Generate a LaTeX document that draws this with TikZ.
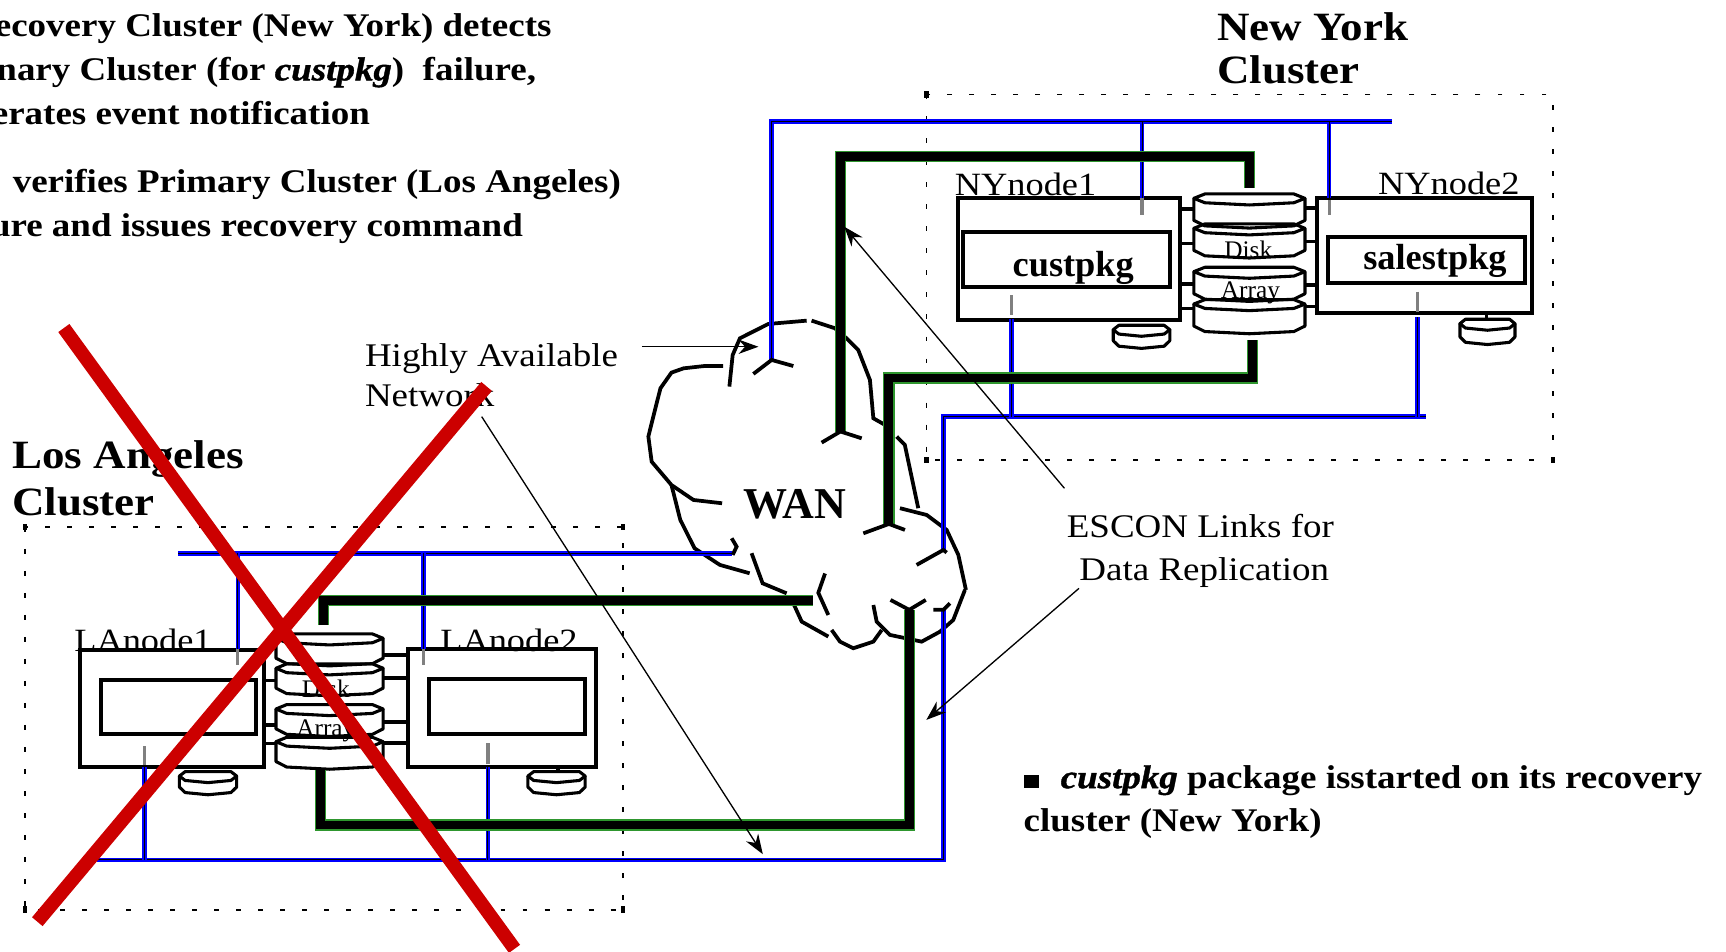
\documentclass[tikz,border=0pt]{standalone}
\usepackage{fontspec}
\setmainfont{Liberation Serif}
\newfontfamily\widefont{Liberation Serif}[FakeStretch=1.12,
  BoldFont={Liberation Serif Bold}, BoldItalicFont={Liberation Serif Bold Italic},
  BoldItalicFeatures={FakeBold=1.2}]
\usetikzlibrary{arrows.meta}

\definecolor{lanblue}{RGB}{0,0,255}
\definecolor{esconedge}{RGB}{46,150,46}
\definecolor{xred}{RGB}{204,0,0}

% one disk of a stack: centre x, lens centre y, half width, side height
\newcommand{\platter}[4]{%
  \draw[diskline] ({#1-#3},{#2}) -- ({#1-0.8*#3},{#2-4}) -- ({#1+0.8*#3},{#2-4})
    -- ({#1+#3},{#2}) -- ({#1+0.8*#3},{#2+4}) -- ({#1},{#2+6}) -- ({#1-0.8*#3},{#2+4}) -- cycle;
  \draw[diskline] ({#1-#3},{#2}) -- ({#1-#3},{#2+#4}) -- ({#1-0.8*#3},{#2+#4+5})
    -- ({#1},{#2+#4+7}) -- ({#1+0.8*#3},{#2+#4+5}) -- ({#1+#3},{#2+#4}) -- ({#1+#3},{#2});
}

\begin{document}
\begin{tikzpicture}[x=1pt, y=-1pt,
  every node/.style={inner sep=0pt, outer sep=0pt},
  hostbox/.style={draw, line width=3.6pt},
  pkgbox/.style={draw, line width=3.6pt},
  lan/.style={draw=lanblue, line width=1.6pt, double=black, double distance=0.8pt},
  escon/.style={draw=esconedge, line width=1.2pt, double=black, double distance=8pt},
  tick/.style={draw=gray, line width=3pt},
  stub/.style={line width=3pt},
  diskline/.style={line width=2.8pt, line join=round},
  cloudline/.style={line width=3.4pt},
  frame/.style={line width=1.3pt, dash pattern=on 4.5pt off 15.5pt},
  callout/.style={line width=1.2pt, -{Stealth[length=18pt, width=13pt]}},
  cross/.style={draw=xred, line width=12.5pt},
  slide/.style={font=\widefont\bfseries\fontsize{30}{36}\selectfont},
  title/.style={font=\widefont\bfseries\fontsize{36.5}{40}\selectfont, anchor=base west},
  hostname/.style={font=\widefont\fontsize{29.5}{32}\selectfont, anchor=base west},
  pkgname/.style={font=\bfseries\fontsize{33}{36}\selectfont, anchor=base},
  arraytext/.style={font=\fontsize{23}{25}\selectfont, anchor=base},
  note/.style={font=\widefont\fontsize{30}{36}\selectfont}
]
\useasboundingbox (0,0) rectangle (1568,864);

% cluster frames
\draw[frame] (841.7,85.7) rectangle (1411,418);
\foreach \x/\y in {841.7/85.7, 841.7/418, 1411/418}
  \fill (\x,\y) +(-2,-3) rectangle +(2,3);
\draw[frame] (22.6,478.6) rectangle (566,826.5);
\foreach \x/\y in {22.6/478.6, 566/478.6, 22.6/826.5, 566/826.5}
  \fill (\x,\y) +(-2,-3) rectangle +(2,3);

% WAN cloud
\draw[cloudline] (657,332.5) -- (640,332.5) -- (621,334.6) -- (610,338.5) -- (600,352.7)
  -- (595,372.4) -- (589,396.6) -- (592,419.4) -- (610,440.6) -- (630,454.2) -- (656,457.2);
\draw[cloudline] (610,440.6) -- (618,472.3) -- (631,498.1) -- (654,513.2) -- (681,520.8);
\draw[cloudline] (662.6,351.2) -- (665.6,322.5) -- (672.2,307.3) -- (698,294.3) -- (732.8,291.3);
\draw[cloudline] (737.3,291.3) -- (758.5,298.2) -- (769,307.3) -- (779.7,318) -- (790.3,345.2)
  -- (793.4,380) -- (804,386);
\draw[cloudline] (814.6,396.6) -- (822,404.2) -- (834.2,461.7);
\draw[cloudline] (817.6,461.7) -- (841.8,467.8) -- (860,481.4) -- (870.6,504.1) -- (877.5,535.9);
\draw[cloudline] (876.6,535.9) -- (866,563.2) -- (854,573.8) -- (837.3,582.9) -- (808.5,576.8)
  -- (796.4,564.7) -- (793.4,549.6);
\draw[cloudline] (801,572.3) -- (793.4,582.9) -- (775.2,588.9) -- (763.1,582.9) -- (755.5,572.3);
\draw[cloudline] (752.5,578.3) -- (728.3,564.7) -- (720.7,548.1);
\draw[cloudline] (714.6,539) -- (692.8,529.9) -- (682.8,502.6);
\node[font=\bfseries\fontsize{40}{40}\selectfont, anchor=base] (wan) at (722,471) {WAN};

% hosts, New York
\node[hostbox, minimum width=201.7pt, minimum height=111pt] (ny1) at (971.2,235.5) {};
\node[pkgbox, minimum width=188pt, minimum height=50pt] (ny1pkg) at (968.9,235.8) {};
\node[pkgname] (custpkg) at (975,251.6) {custpkg};
\node[hostname] (ny1name) at (867.5,178) {NYnode1};
\node[hostbox, minimum width=196pt, minimum height=104.5pt] (ny2) at (1294,232.3) {};
\node[pkgbox, minimum width=178.5pt, minimum height=42pt] (ny2pkg) at (1295.8,236) {};
\node[pkgname] (salestpkg) at (1303.6,245) {salestpkg};
\node[hostname] (ny2name) at (1252,177) {NYnode2};

% hosts, Los Angeles
\node[hostbox, minimum width=167pt, minimum height=106pt] (la1) at (155.9,643.5) {};
\node[pkgbox, minimum width=140.5pt, minimum height=49pt] (la1pkg) at (162,642.3) {};
\node[hostname] (la1name) at (67.5,592) {LAnode1};
\node[hostbox, minimum width=170.4pt, minimum height=106.7pt] (la2) at (455.8,643) {};
\node[pkgbox, minimum width=141.5pt, minimum height=50pt] (la2pkg) at (460.8,642) {};
\node[hostname] (la2name) at (400,592) {LAnode2};

% disk arrays and their SCSI stubs
\foreach \yc in {180.2,207.4,246.8,276.2} \platter{1135}{\yc}{50.5}{20};
\node[arraytext] (nydisk) at (1134,234.5) {Disk};
\node[arraytext] (nyarray) at (1136,271) {Array};
\foreach \y in {190,221,258,280} \draw[stub] (1072,\y) -- (1084.5,\y);
\foreach \y in {189,219.5,259,278.6} \draw[stub] (1185.5,\y) -- (1196,\y);

\foreach \yc in {579.9,607.1,644.1,673.8} \platter{299.4}{\yc}{48.7}{18};
\node[arraytext] (ladisk) at (296,634) {Disk};
\node[arraytext] (laarray) at (296,669) {Array};
\foreach \y in {589,618,658.6,675.3} \draw[stub] (239.5,\y) -- (250.7,\y);
\foreach \y in {595,616,656,675} \draw[stub] (348,\y) -- (370.6,\y);

% root disks
\platter{1037}{299.5}{25.7}{10};
\platter{1351.3}{294}{25}{12};
\draw[stub] (1350.5,284.5) -- (1350.5,290);
\platter{189}{705}{26}{10};
\platter{505.6}{705}{26}{10};
\draw[stub] (507,696.5) -- (507,701);

% LANs
\coordinate (nyLanEnd) at (701,327);
\coordinate (nyLanCorner) at (701,110.5);
\coordinate (nyLanRight) at (1265,110.5);
\coordinate (ny1up) at (1037.5,180);
\coordinate (ny2up) at (1207.5,180);
\draw[lan] (nyLanEnd) -- (nyLanCorner) -- (nyLanRight);
\draw[lan] (ny1up |- nyLanCorner) -- (ny1up);
\draw[lan] (ny2up |- nyLanCorner) -- (ny2up);

\coordinate (nyLowEnd) at (857,499.6);
\coordinate (nyLowCorner) at (857,378.5);
\coordinate (nyLowRight) at (1295,378.5);
\coordinate (ny1down) at (919,290);
\coordinate (ny2down) at (1287.7,288);
\draw[lan] (nyLowEnd) -- (nyLowCorner) -- (nyLowRight);
\draw[lan] (ny1down) -- (ny1down |- nyLowCorner);
\draw[lan] (ny2down) -- (ny2down |- nyLowCorner);

\coordinate (wanLow) at (857,554);
\coordinate (laLowCorner) at (857,781);
\coordinate (laLowLeft) at (88,781);
\coordinate (la1down) at (131.4,697);
\coordinate (la2down) at (443.2,697);
\draw[lan] (wanLow) -- (laLowCorner) -- (laLowLeft);
\draw[lan] (la1down) -- (la1down |- laLowCorner);
\draw[lan] (la2down) -- (la2down |- laLowCorner);

\coordinate (laLanEnd) at (664.7,502.7);
\coordinate (laLanLeft) at (161.3,502.7);
\coordinate (la1up) at (216,590);
\coordinate (la2up) at (384.8,590);
\draw[lan] (laLanEnd) -- (laLanLeft);
\draw[lan] (la1up |- laLanLeft) -- (la1up);
\draw[lan] (la2up |- laLanLeft) -- (la2up);

% taps on the hosts
\draw[tick] (1037.5,180) -- (1037.5,195);
\draw[tick] (1207.5,182) -- (1207.5,195);
\draw[tick] (919,268) -- (919,286);
\draw[tick] (1287.7,265) -- (1287.7,283);
\draw[tick] (216,590) -- (216,604);
\draw[tick] (384.8,590) -- (384.8,604);
\draw[tick] (131.4,678) -- (131.4,695);
\draw[tick] (443.2,675) -- (443.2,694);

% ESCON links
\coordinate (nyEsc1End) at (763.5,392);
\coordinate (nyEsc1Corner) at (763.5,142.3);
\coordinate (nyEsc1Right) at (1135,142.3);
\coordinate (nyArrayTop) at (1135,171);
\draw[escon] (nyEsc1End) -- (nyEsc1Corner) -- (nyEsc1Right) -- (nyArrayTop);
\coordinate (nyArrayBot) at (1138,309);
\coordinate (nyEsc2Right) at (1138,343.4);
\coordinate (nyEsc2Corner) at (807.5,343.4);
\coordinate (nyEsc2End) at (807.5,476);
\draw[escon] (nyArrayBot) -- (nyEsc2Right) -- (nyEsc2Corner) -- (nyEsc2End);
\coordinate (laArrayTop) at (294,568);
\coordinate (laEsc1Corner) at (294,545.7);
\coordinate (laEsc1End) at (738.6,545.7);
\draw[escon] (laArrayTop) -- (laEsc1Corner) -- (laEsc1End);
\coordinate (laArrayBot) at (291,699.5);
\coordinate (laEsc2Corner) at (291,749.5);
\coordinate (laEsc2Right) at (826,749.5);
\coordinate (laEsc2End) at (826,554);
\draw[escon] (laArrayBot) -- (laEsc2Corner) -- (laEsc2Right) -- (laEsc2End);

% line ends inside the WAN
\draw[cloudline] (684.4,339.7) -- (nyLanEnd) -- (720.7,332.5);
\draw[cloudline] (746.4,402.1) -- (nyEsc1End) -- (782.8,398.2);
\draw[cloudline] (784.3,484.5) -- (nyEsc2End) -- (822.1,481.4);
\draw[cloudline] (832.7,513.2) -- (nyLowEnd) -- (860,502);
\draw[cloudline] (847.9,554) -- (wanLow) -- (863,548);
\draw[cloudline] (809,545) -- (laEsc2End) -- (841,545);
\draw[cloudline] (664.7,489) -- (669.2,496.6) -- (665.6,504.1);
\draw[cloudline] (749.5,521) -- (743.4,538.5) -- (752.5,558.7);

% callouts
\node[note, anchor=base west] (ha1) at (331.6,333) {Highly Available};
\node[note, anchor=base west] (ha2) at (331.6,369.7) {Network};
\node[note, anchor=base] (esc1) at (1090.5,488) {ESCON Links for};
\node[note, anchor=base] (esc2) at (1094,527.5) {Data Replication};
\coordinate (haTail) at (583,315);
\coordinate (haTip) at (689,315);
\coordinate (netTail) at (437.6,378.5);
\coordinate (netTip) at (693,776);
\coordinate (esc1Tail) at (967,443.6);
\coordinate (esc1Tip) at (767,206);
\coordinate (esc2Tail) at (980.2,534.5);
\coordinate (esc2Tip) at (841.5,654);
\draw[callout] (haTail) -- (haTip);
\draw[callout] (netTail) -- (netTip);
\draw[callout] (esc1Tail) -- (esc1Tip);
\draw[callout] (esc2Tail) -- (esc2Tip);

% titles
\node[title] (nyt1) at (1105.6,36.5) {New York};
\node[title] (nyt2) at (1105.6,75.5) {Cluster};
\node[title] (lat1) at (11.3,426) {Los Angeles};
\node[title] (lat2) at (11.3,468) {Cluster};

% slide text
\node[slide, anchor=base east] (s1) at (501,33) {ecovery Cluster (New York) detects};
\node[slide, anchor=base east] (s2) at (487,73) {nary Cluster (for \textit{custpkg})\ \ failure,};
\node[slide, anchor=base east] (s3) at (336,113) {erates event notification};
\node[slide, anchor=base east] (s4) at (564,175) {verifies Primary Cluster (Los Angeles)};
\node[slide, anchor=base east] (s5) at (475,215) {ure and issues recovery command};
\node[slide, anchor=base west] (r1) at (930,716)
  {\rule{14pt}{12pt}\hspace{19.6pt}\textit{custpkg} package isstarted on its recovery};
\node[slide, anchor=base west] (r2) at (930,755.5) {cluster (New York)};

% Los Angeles is down
\draw[cross] (58,298) -- (467.4,862);
\draw[cross] (442,351) -- (33.9,837.3);

\end{tikzpicture}
\end{document}
